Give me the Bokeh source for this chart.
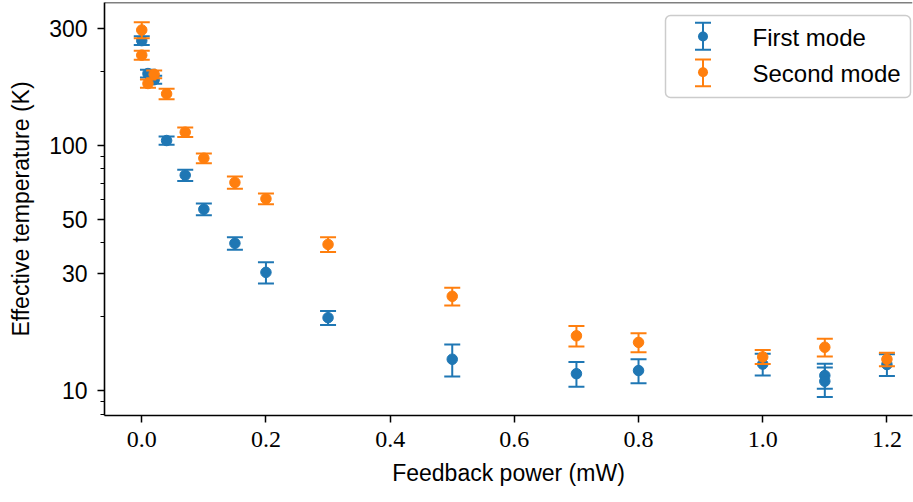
from bokeh.plotting import figure
from bokeh.models import (ColumnDataSource, Range1d, FixedTicker, NumeralTickFormatter,
                          PrintfTickFormatter, BoxAnnotation, Whisker, TeeHead, Label, Span)
from bokeh.embed import file_html
from bokeh.resources import INLINE

# Effective temperature of the two mechanical modes vs. feedback power
first_power = [0.0, 0.01, 0.02, 0.04, 0.07, 0.10, 0.15, 0.20, 0.30, 0.50, 0.70, 0.80, 1.00, 1.10, 1.10, 1.20]
first_temp = [267, 196, 185, 104.5, 75.5, 54.8, 39.8, 30.3, 19.8, 13.4, 11.7, 12.05, 12.8, 11.5, 10.9, 12.75]
first_err = [11, 7, 7, 4, 4, 3, 2.3, 3.0, 1.3, 2.0, 1.35, 1.35, 1.3, 1.35, 1.5, 1.3]

second_power = [0.0, 0.0, 0.01, 0.02, 0.04, 0.07, 0.10, 0.15, 0.20, 0.30, 0.50, 0.70, 0.80, 1.00, 1.10, 1.20]
second_temp = [295, 233, 178.5, 194.5, 162, 113, 88.5, 70.5, 60.5, 39.4, 24.2, 16.7, 15.7, 13.7, 15.0, 13.4]
second_err = [22, 10, 7, 7, 8, 5, 4, 4, 3, 2.7, 2.0, 1.6, 1.4, 0.9, 1.25, 0.85]

series_names = ["First mode", "Second mode"]
series_colors = ["#1f77b4", "#ff7f0e"]

x_ticks = [0.0, 0.2, 0.4, 0.6, 0.8, 1.0, 1.2]
y_ticks = [10, 30, 50, 100, 300]
y_minor_ticks = [8, 9, 20, 40, 60, 70, 80, 90, 200]

SANS = "Liberation Sans"
SERIF = "Liberation Serif"

y_top = 382
p = figure(width=913, height=502, y_axis_type="log",
           x_range=Range1d(-0.06, 1.2412), y_range=Range1d(7.9, y_top),
           output_backend="svg", toolbar_location=None,
           min_border_left=104, min_border_right=1, min_border_top=2, min_border_bottom=87)
p.outline_line_color = None
p.xgrid.visible = False
p.ygrid.visible = False
p.background_fill_color = "white"
p.border_fill_color = "white"

# top spine (right spine falls outside the canvas)
p.add_layout(Span(location=y_top, dimension="width", line_color="black", line_width=1.6))


def add_series(xs, ys, errs, color):
    src = ColumnDataSource(dict(
        x=xs, y=ys,
        upper=[v + e for v, e in zip(ys, errs)],
        lower=[v - e for v, e in zip(ys, errs)],
    ))
    p.segment(x0="x", y0="lower", x1="x", y1="upper", source=src, line_color=color, line_width=2)
    p.scatter(x="x", y="upper", source=src, marker="dash", size=16, line_color=color, line_width=2)
    p.scatter(x="x", y="lower", source=src, marker="dash", size=16, line_color=color, line_width=2)
    p.scatter(x="x", y="y", source=src, marker="circle", size=10.5, fill_color=color, line_color=color)


add_series(first_power, first_temp, first_err, series_colors[0])
add_series(second_power, second_temp, second_err, series_colors[1])

# axes
for ax in (p.xaxis[0], p.yaxis[0]):
    ax.axis_line_color = "black"
    ax.axis_line_width = 1.6
    ax.major_tick_line_color = "black"
    ax.major_tick_line_width = 1.5
    ax.major_tick_out = 7
    ax.major_tick_in = 0
    ax.minor_tick_line_color = "black"
    ax.minor_tick_line_width = 1.2
    ax.minor_tick_out = 4
    ax.minor_tick_in = 0
    ax.major_label_text_color = "black"
    ax.axis_label_text_color = "black"
    ax.axis_label_text_font = SANS
    ax.axis_label_text_font_style = "normal"
    ax.axis_label_text_font_size = "23px"

p.xaxis.ticker = FixedTicker(ticks=x_ticks, minor_ticks=[])
p.xaxis.formatter = NumeralTickFormatter(format="0.0")
p.xaxis.major_label_text_font = SERIF
p.xaxis.major_label_text_font_size = "24px"
p.xaxis.major_label_standoff = 9
p.xaxis.axis_label = "Feedback power (mW)"
p.xaxis.axis_label_standoff = 10

p.yaxis.ticker = FixedTicker(ticks=y_ticks, minor_ticks=y_minor_ticks)
p.yaxis.formatter = PrintfTickFormatter(format="%d")
p.yaxis.major_label_text_font = SANS
p.yaxis.major_label_text_font_size = "23px"
p.yaxis.major_label_standoff = 10
p.yaxis.axis_label = "Effective temperature (K)"
p.yaxis.axis_label_standoff = 12

# legend drawn in frame pixel units (origin at bottom-left of the frame)
p.add_layout(BoxAnnotation(left=561, right=806, bottom=318, top=400,
                           left_units="screen", right_units="screen",
                           bottom_units="screen", top_units="screen",
                           fill_color="white", fill_alpha=0.8,
                           line_color="#cccccc", line_alpha=1.0, line_width=1.5,
                           line_dash="solid", border_radius=5, level="annotation"))

legend_rows = [(392.7, 365.7, 379.0, 378.0), (356.0, 329.3, 343.3, 342.0)]
glyph_x = 598.5
for name, color, (up, lo, mid, ty) in zip(series_names, series_colors, legend_rows):
    wsrc = ColumnDataSource(dict(base=[glyph_x], upper=[up], lower=[lo]))
    p.add_layout(Whisker(source=wsrc, base="base", upper="upper", lower="lower",
                         dimension="height", base_units="screen",
                         upper_units="screen", lower_units="screen",
                         line_color=color, line_width=2, level="annotation",
                         upper_head=TeeHead(size=16, line_color=color, line_width=2),
                         lower_head=TeeHead(size=16, line_color=color, line_width=2)))
    r = 5
    p.add_layout(BoxAnnotation(left=glyph_x - r, right=glyph_x + r, bottom=mid - r, top=mid + r,
                               left_units="screen", right_units="screen",
                               bottom_units="screen", top_units="screen",
                               fill_color=color, fill_alpha=1.0, line_alpha=0.0,
                               border_radius=r, level="annotation"))
    p.add_layout(Label(x=648, y=ty, x_units="screen", y_units="screen", text=name,
                       text_font=SANS, text_font_size="24px", text_color="black",
                       text_align="left", text_baseline="middle", level="annotation"))

open("out.html", "w").write(file_html(p, INLINE))
